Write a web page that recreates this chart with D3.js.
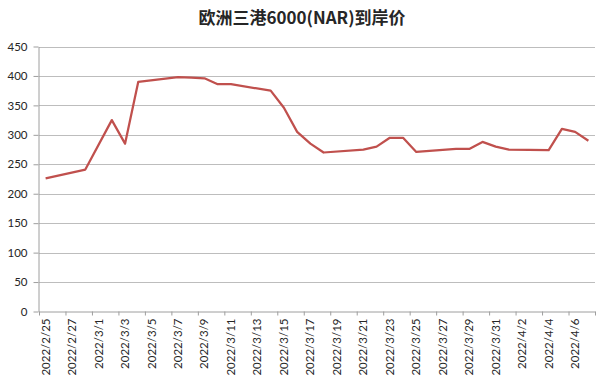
<!DOCTYPE html>
<html><head><meta charset="utf-8">
<script src="https://cdn.jsdelivr.net/npm/d3@7"></script>
<style>
body{margin:0;background:#fff;}
svg{display:block;}
</style></head><body>
<svg id="chart" width="604" height="381"></svg>
<script>
const title = "欧洲三港6000(NAR)到岸价";
const dates = ["2022-02-25","2022-02-28","2022-03-02","2022-03-03","2022-03-04","2022-03-07","2022-03-08","2022-03-09","2022-03-10","2022-03-11","2022-03-14","2022-03-15","2022-03-16","2022-03-17","2022-03-18","2022-03-21","2022-03-22","2022-03-23","2022-03-24","2022-03-25","2022-03-28","2022-03-29","2022-03-30","2022-03-31","2022-04-01","2022-04-04","2022-04-05","2022-04-06","2022-04-07"];
const prices = [226,241,325,285,390,398,397,396,386,386,375,346,305,285,270,275,280,295,295,271,276,276,288,280,275,274,310,305,290];
const yTicks = [0,50,100,150,200,250,300,350,400,450];
const axisStart = "2022-02-25";
const axisEnd = "2022-04-08";

const svg = d3.select("#chart");
const m = {left:39, right:595, top:46.5, bottom:311.5};
const parse = s => new Date(s + "T00:00:00Z");
const x = d3.scaleUtc().domain([parse(axisStart), parse(axisEnd)]).range([m.left, m.right]);
const y = d3.scaleLinear().domain([0,450]).range([m.bottom, m.top]);
const font = "Lato, 'Liberation Sans', sans-serif";

// gridlines
svg.append("g").selectAll("line").data(yTicks.filter(v=>v>0)).join("line")
  .attr("x1", m.left).attr("x2", m.right)
  .attr("y1", d=>Math.round(y(d))+0.5).attr("y2", d=>Math.round(y(d))+0.5)
  .attr("stroke", "#bdbdbd").attr("stroke-width", 1);

// y axis
const yAxis = svg.append("g").attr("transform", `translate(${m.left-0.5},0)`)
  .call(d3.axisLeft(y).tickValues(yTicks).tickSize(5).tickPadding(6).tickSizeOuter(0));
yAxis.select(".domain").attr("stroke", "#9e9e9e");
yAxis.selectAll(".tick line").attr("stroke", "#9e9e9e");
yAxis.selectAll("text").attr("font-family", font).attr("font-size", 11.5).attr("fill", "#262626");

// x axis ticks (every two days, at day boundaries)
const tickDates = d3.utcDay.range(parse(axisStart), d3.utcDay.offset(parse(axisEnd),1), 2);
const xAxis = svg.append("g").attr("transform", `translate(0,${m.bottom})`)
  .call(d3.axisBottom(x).tickValues(tickDates).tickSize(4).tickFormat("").tickSizeOuter(0));
xAxis.select(".domain").attr("stroke", "#9e9e9e");
xAxis.selectAll(".tick line").attr("stroke", "#9e9e9e");

// x labels centered on day
const labelDates = tickDates.filter(d => d < parse(axisEnd)).map(d => d3.utcHour.offset(d, 12));
const fmt = d => `${d.getUTCFullYear()}/${d.getUTCMonth()+1}/${d.getUTCDate()}`;
svg.append("g").selectAll("text").data(labelDates).join("text")
  .attr("transform", d => `translate(${x(d)+4},${m.bottom+7}) rotate(-90)`)
  .attr("text-anchor", "end")
  .attr("font-family", font).attr("font-size", 11.5).attr("fill", "#262626")
  .text(fmt);

// line
const pts = dates.map((d,i) => ({date: d3.utcHour.offset(parse(d),12), v: prices[i]}));
svg.append("path").datum(pts)
  .attr("fill", "none").attr("stroke", "#c0504d").attr("stroke-width", 2.25)
  .attr("stroke-linejoin", "round")
  .attr("d", d3.line().x(d=>x(d.date)).y(d=>y(d.v)));

// title
svg.append("text").attr("x", 302).attr("y", 24).attr("text-anchor", "middle")
  .attr("font-family", "'Noto Sans CJK SC', sans-serif").attr("font-weight", "bold")
  .attr("font-size", 17).attr("fill", "#262626").text(title);
</script>
</body></html>
